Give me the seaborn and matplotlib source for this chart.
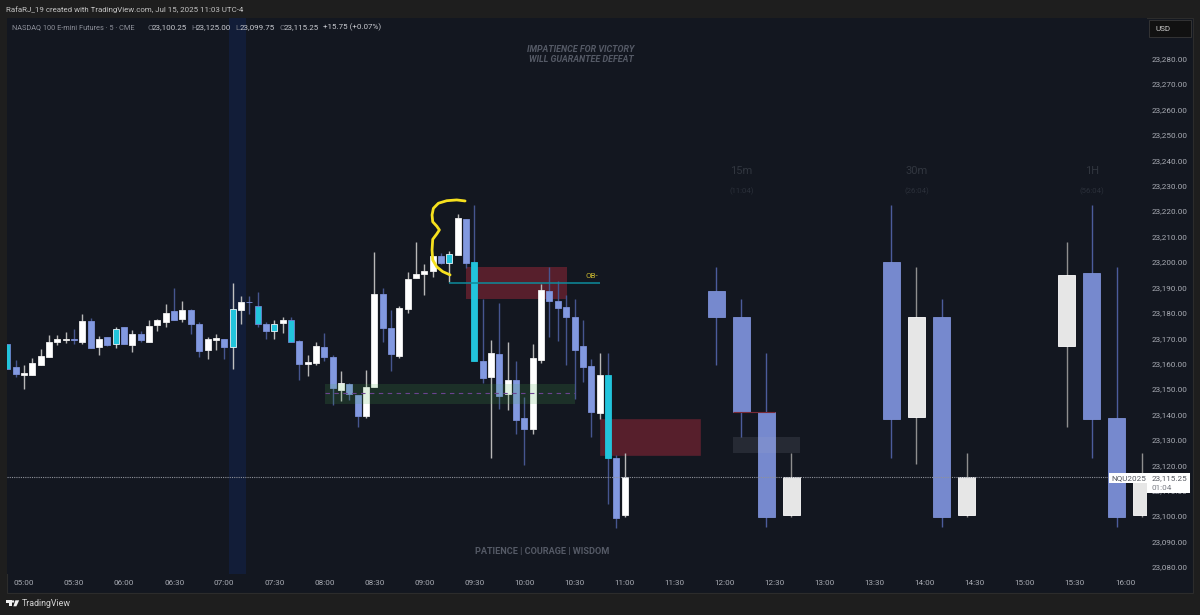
import matplotlib
matplotlib.use("Agg")
import matplotlib.pyplot as plt
from matplotlib.patches import Rectangle, Polygon, Circle
from matplotlib.transforms import Affine2D
import numpy as np
import pandas as pd
import seaborn as sns

# 5 minute bars, index 0 = 05:00
bar_idx = list(range(-2, 73))
bar_kind = ["c", "b", "w", "w", "w", "w", "w", "w", "b", "w",
            "b", "w", "b", "cw", "b", "w", "b", "w", "w", "w",
            "b", "w", "b", "b", "w", "w", "b", "cw", "w", "b",
            "c", "b", "cw", "w", "c", "b", "w", "w", "b", "b",
            "w", "b", "b", "w", "w", "b", "b", "w", "w", "w",
            "w", "w", "b", "cw", "w", "b", "c2", "b", "w", "b",
            "w", "b", "b", "w", "w", "b", "b", "b", "b", "b",
            "b", "w", "c2", "b", "w"]
bar_open = [23167.7, 23158.8, 23155.6, 23155.5, 23159.6, 23162.5, 23168.6, 23169.3, 23169.5, 23168.6,
            23176.8, 23166.6, 23170.3, 23173.5, 23174.3, 23167.4, 23171.5, 23168.6, 23175.2, 23176.2,
            23180.6, 23177.4, 23181.1, 23175.4, 23165.3, 23169.1, 23169.5, 23166.6, 23181.0, 23184.2,
            23182.5, 23175.4, 23175.7, 23175.8, 23177.1, 23169.0, 23160.0, 23160.4, 23166.6, 23162.5,
            23149.6, 23151.8, 23147.5, 23139.5, 23150.6, 23187.2, 23173.9, 23163.1, 23181.5, 23193.5,
            23195.4, 23196.4, 23202.3, 23199.7, 23202.9, 23216.9, 23200.0, 23161.0, 23154.7, 23163.9,
            23148.0, 23153.5, 23138.7, 23134.4, 23161.4, 23188.6, 23184.8, 23182.3, 23178.3, 23166.8,
            23159.0, 23140.5, 23155.5, 23123.0, 23100.25]
bar_high = [23167.7, 23161.4, 23159.4, 23162.3, 23165.6, 23171.4, 23171.1, 23172.4, 23173.6, 23179.5,
            23177.8, 23170.8, 23170.6, 23174.5, 23174.5, 23173.1, 23172.9, 23177.0, 23177.7, 23183.4,
            23189.6, 23184.5, 23181.3, 23176.5, 23170.3, 23171.5, 23169.5, 23191.6, 23186.5, 23186.5,
            23188.3, 23176.5, 23177.3, 23178.2, 23178.2, 23169.3, 23163.4, 23168.5, 23172.2, 23163.2,
            23157.2, 23152.2, 23147.5, 23157.5, 23204.0, 23189.6, 23180.9, 23182.7, 23195.9, 23207.7,
            23199.2, 23202.5, 23203.6, 23204.2, 23218.9, 23216.9, 23222.4, 23185.3, 23169.3, 23184.0,
            23168.5, 23160.9, 23147.0, 23167.7, 23191.3, 23198.1, 23192.6, 23186.9, 23185.3, 23177.1,
            23161.8, 23164.0, 23164.2, 23124.0, 23125.0]
bar_low = [23157.9, 23154.8, 23149.9, 23155.5, 23159.6, 23162.5, 23167.4, 23168.0, 23167.7, 23167.7,
           23166.1, 23163.2, 23166.9, 23166.0, 23167.6, 23164.7, 23168.6, 23168.6, 23172.8, 23174.3,
           23177.1, 23176.4, 23171.8, 23162.7, 23161.9, 23165.3, 23161.9, 23157.9, 23175.7, 23179.4,
           23174.5, 23169.8, 23169.7, 23172.2, 23168.4, 23153.7, 23155.0, 23159.6, 23160.9, 23143.7,
           23145.1, 23145.7, 23134.9, 23138.4, 23150.6, 23168.6, 23157.2, 23162.3, 23179.9, 23193.5,
           23187.1, 23194.1, 23199.2, 23192.2, 23202.9, 23197.5, 23160.9, 23152.2, 23122.8, 23142.1,
           23141.6, 23132.3, 23120.2, 23132.3, 23160.4, 23170.6, 23169.0, 23159.3, 23146.2, 23152.9,
           23131.2, 23138.3, 23104.7, 23095.5, 23099.75]
bar_close = [23157.9, 23156.0, 23156.2, 23160.1, 23162.8, 23168.5, 23169.8, 23169.5, 23169.4, 23176.8,
             23166.1, 23169.8, 23167.3, 23167.7, 23167.6, 23171.5, 23169.1, 23174.7, 23177.0, 23180.0,
             23177.1, 23181.1, 23175.6, 23165.1, 23169.8, 23170.1, 23166.4, 23181.3, 23184.1, 23184.1,
             23175.7, 23172.8, 23172.8, 23177.1, 23168.4, 23160.0, 23160.5, 23166.8, 23162.6, 23150.4,
             23152.3, 23147.9, 23139.5, 23150.8, 23187.2, 23174.1, 23163.8, 23181.9, 23193.3, 23195.1,
             23196.4, 23202.5, 23199.5, 23203.0, 23217.2, 23199.5, 23160.9, 23154.4, 23164.0, 23147.4,
             23153.4, 23137.9, 23134.1, 23162.1, 23189.0, 23184.6, 23182.0, 23178.2, 23165.5, 23158.8,
             23140.8, 23155.5, 23122.7, 23099.1, 23115.25]

# higher timeframe candles on the right side
htf_idx = [83, 86, 89, 92, 104, 107, 110, 113, 125, 128, 131, 134]
htf_open = [23188.6, 23178.3, 23140.8, 23100.25, 23199.8, 23138.8, 23178.3, 23100.25, 23166.9, 23195.5, 23138.7, 23100.25]
htf_high = [23198.1, 23185.3, 23164.2, 23125.0, 23222.3, 23198.1, 23185.3, 23125.0, 23207.7, 23222.3, 23198.1, 23125.0]
htf_low = [23159.3, 23131.2, 23095.8, 23099.75, 23123.0, 23120.3, 23095.8, 23099.75, 23134.9, 23123.0, 23095.8, 23099.75]
htf_close = [23178.5, 23140.9, 23099.5, 23115.25, 23138.3, 23178.3, 23099.5, 23115.25, 23195.0, 23138.3, 23099.5, 23115.25]

price_ticks = list(range(23080, 23290, 10))
time_labels = ["05:00", "05:30", "06:00", "06:30", "07:00", "07:30", "08:00", "08:30",
               "09:00", "09:30", "10:00", "10:30", "11:00", "11:30", "12:00", "12:30",
               "13:00", "13:30", "14:00", "14:30", "15:00", "15:30", "16:00"]
time_ticks = [i * 6 for i in range(len(time_labels))]

last_price = 23115.25

# hand drawn brace (bar index, price)
brace_x = [52.88, 51.88, 50.68, 49.68, 49.08, 48.92, 49.0, 49.48, 49.8, 49.48, 49.0, 48.92, 49.0, 49.48, 50.2, 51.08]
brace_y = [23224.0, 23224.4, 23224.1, 23223.1, 23221.1, 23218.5, 23215.8, 23214.1, 23212.6, 23211.0,
           23208.9, 23204.7, 23200.8, 23198.1, 23196.2, 23194.9]

BG = "#131720"
FRAME = "#1e1e1e"
WHITE = "#ffffff"
BLUE = "#8299e0"
CYAN = "#22c4dc"
BLUE_WICK = "#46558f"
WHITE_WICK = "#b8b8b8"
AXIS_TEXT = "#a9acb4"

sns.set_theme(style="dark", rc={"axes.facecolor": BG, "figure.facecolor": FRAME})
plt.rcParams["font.family"] = ["Roboto", "DejaVu Sans"]

fig = plt.figure(figsize=(12, 6.15), dpi=100)
ax = fig.add_axes([7 / 1200, 1 - 573.5 / 615, (1146.7 - 7) / 1200, (573.5 - 18) / 615])
# pixel coords for the chrome around the chart
pix = Affine2D().scale(1, -1).translate(0, 615)

fig.add_artist(Rectangle((6.5, 17.5), 1186.5, 575, transform=pix, facecolor=BG, edgecolor="#2c2c2c", lw=0.8, zorder=-1))

ax.set_xlim(-2.04, 134.6)
ax.set_ylim(23077.4, 23296)

bars = pd.DataFrame({"idx": bar_idx, "kind": bar_kind, "o": bar_open, "h": bar_high, "l": bar_low, "c": bar_close})
htf = pd.DataFrame({"idx": htf_idx, "o": htf_open, "h": htf_high, "l": htf_low, "c": htf_close})
htf["kind"] = np.where(htf["c"] > htf["o"], "hw", "hb")

styles = {
    "w": (WHITE, "#f0f0f0", WHITE_WICK),
    "b": (BLUE, "#7c90d8", BLUE_WICK),
    "c": (CYAN, "#6f86d0", BLUE_WICK),
    "cw": (CYAN, "#e8f4f8", "#c0c0c0"),
    "c2": (CYAN, CYAN, BLUE_WICK),
    "hw": ("#e6e6e6", "#ffffff", "#8f8f8f"),
    "hb": ("#7689ce", "#7d90d6", "#4c5c9c"),
}

def draw_candles(df, width):
    for kind, part in df.groupby("kind"):
        face, edge, wick = styles[kind]
        ax.vlines(part["idx"], part["l"], part["h"], color=wick, lw=1.0, zorder=3)
        ax.bar(part["idx"], (part["c"] - part["o"]).abs(), bottom=part[["o", "c"]].min(axis=1),
               width=width, color=face, edgecolor=edge, linewidth=0.6, zorder=4)

# session band
ax.axvspan(24.6, 26.6, color="#121d38", lw=0, zorder=1)

# red zones stay under the candles
ax.add_patch(Rectangle((53, 23185.4), 12.1, 12.5, facecolor="#571f2c", lw=0, zorder=2))
ax.add_patch(Rectangle((69, 23123.9), 12.1, 14.3, facecolor="#571f2c", edgecolor="#5e2230", lw=0.4, zorder=2))

draw_candles(bars, 0.72)
draw_candles(htf, 2.08)

# green zone and grey zone sit on top
ax.add_patch(Rectangle((36.1, 23144.0), 30, 8.1, facecolor="#4caf50", alpha=0.17, lw=0, zorder=5))
ax.hlines(23148.3, 36.1, 66.1, color="#6b4390", lw=0.8, linestyles=(0, (4, 4)), zorder=5)
ax.add_patch(Rectangle((85, 23124.9), 8, 6.3, facecolor="#b0b8c8", alpha=0.12, lw=0, zorder=5))
ax.hlines(23140.9, 85, 90, color="#7a2a36", lw=0.8, zorder=5)

# order block line
ax.hlines(23191.7, 51, 69, color="#0d8c9c", lw=1.1, zorder=6)
ax.text(68.8, 23194.5, "OB-", color="#c8b62f", fontsize=5.8, ha="right", va="center", zorder=6)

# last price line
ax.axhline(last_price, color="#8f929b", lw=0.8, ls=(0, (1, 1)), zorder=6)

sns.lineplot(x=brace_x, y=brace_y, sort=False, estimator=None, color="#f6e01e", lw=2.0, ax=ax, zorder=7)

ax.yaxis.tick_right()
ax.set_yticks(price_ticks)
ax.set_yticklabels([f"{p:,.2f}" for p in price_ticks])
ax.set_xticks(time_ticks)
ax.set_xticklabels(time_labels)
ax.tick_params(axis="y", length=0, pad=3.8, labelsize=5.9, labelcolor=AXIS_TEXT)
ax.tick_params(axis="x", length=0, pad=4.5, labelsize=5.9, labelcolor=AXIS_TEXT)
ax.set_xlabel("")
ax.set_ylabel("")
ax.grid(False)
for s in ax.spines.values():
    s.set_visible(False)

def label(x, y, txt, color, size, **kw):
    kw.setdefault("ha", "left")
    kw.setdefault("va", "center")
    fig.text(x, y, txt, color=color, fontsize=size, transform=pix, zorder=10, **kw)

# header
label(6.5, 9.5, "RafaRJ_19 created with TradingView.com, Jul 15, 2025 11:03 UTC-4", "#c4c4c4", 5.65)
label(12, 27.5, "NASDAQ 100 E-mini Futures · 5 · CME", "#8d909a", 5.35)
for x, name, val in [(147, "O", "23,100.25"), (191, "H", "23,125.00"), (235, "L", "23,099.75"), (279, "C", "23,115.25")]:
    label(x, 27.5, name, "#787b86", 5.8)
    label(x + 4.6, 27.5, val, "#c8cad0", 5.8)
label(323, 27.5, "+15.75 (+0.07%)", "#c8cad0", 5.8)

# watermark texts
label(581, 50, "IMPATIENCE FOR VICTORY", "#555a66", 6.4, ha="center", style="italic", weight="bold")
label(581, 59, "WILL GUARANTEE DEFEAT", "#555a66", 6.4, ha="center", style="italic", weight="bold")
label(542, 551.5, "PATIENCE | COURAGE | WISDOM", "#555a66", 6.6, ha="center", weight="bold")

# timeframe headings
for x, tf, left in [(741.5, "15m", "(11:04)"), (917, "30m", "(26:04)"), (1092, "1H", "(56:04)")]:
    label(x, 171, tf, "#31363f", 8.0, ha="center")
    label(x, 191, left, "#2b303a", 5.6, ha="center")

# USD box
fig.add_artist(Rectangle((1148.7, 20), 42, 17.3, transform=pix, facecolor="#111111", edgecolor="#343434", lw=0.7, zorder=9))
label(1155, 28.8, "USD", "#c8c8c8", 5.9)

# last price tags
fig.add_artist(Rectangle((1109, 472.7), 37.5, 10.6, transform=pix, facecolor="#ffffff", lw=0, zorder=9))
fig.add_artist(Rectangle((1146.7, 472.7), 43.3, 20, transform=pix, facecolor="#ffffff", lw=0, zorder=9))
label(1111.5, 478, "NQU2025", "#555860", 5.9)
label(1152, 478, "23,115.25", "#555860", 5.9)
label(1152, 487.5, "01:04", "#7b7e86", 5.9)

# TradingView logo + name
fig.add_artist(Polygon([(6.3, 600.3), (11.6, 600.3), (11.6, 606.3), (9, 606.3), (9, 602.6), (6.3, 602.6)], closed=True,
                       transform=pix, facecolor="#f0f0f0", lw=0, zorder=9))
fig.add_artist(Circle((13, 601.5), 1.2, transform=pix, facecolor="#f0f0f0", lw=0, zorder=9))
fig.add_artist(Polygon([(15.4, 600.3), (19.2, 600.3), (16.4, 606.3), (13.4, 606.3)], closed=True,
                       transform=pix, facecolor="#f0f0f0", lw=0, zorder=9))
label(22, 603.5, "TradingView", "#d4d4d4", 6.4)

fig.savefig("out.png", dpi=100, facecolor=FRAME)
